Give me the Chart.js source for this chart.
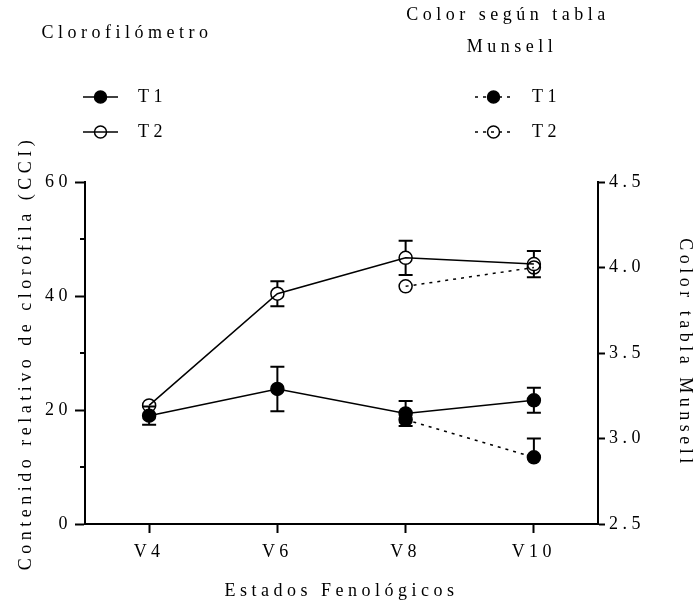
<!DOCTYPE html>
<html>
<head>
<meta charset="utf-8">
<script src="https://cdn.jsdelivr.net/npm/chart.js@4.4.0/dist/chart.umd.min.js"></script>
<style>
  html, body { margin: 0; padding: 0; background: #fff; }
</style>
</head>
<body>
<canvas id="chart" width="698" height="606"></canvas>
<script>
// datos
const estados = ['V4', 'V6', 'V8', 'V10'];

const cloroT1 = [19.0, 23.7, 19.4, 21.7];
const cloroT1Err = [1.6, 3.9, 2.2, 2.2];
const cloroT2 = [20.8, 40.4, 46.7, 45.6];
const cloroT2Err = [0.6, 2.2, 3.0, 2.3];

const munsellT1 = [null, null, 3.11, 2.89];
const munsellT1ErrUp = [null, null, 0, 0.11];
const munsellT2 = [null, null, 3.89, 4.00];
const munsellT2Err = [null, null, 0, 0];

const ticksCloro = [0, 20, 40, 60];
const ticksMunsell = [2.5, 3.0, 3.5, 4.0, 4.5];

const FONT = "'Liberation Serif', 'Times New Roman', serif";
const SPACING = '4.5px';
const R = 6.5;

const spacingPlugin = {
  id: 'spacing',
  beforeUpdate(chart) { chart.ctx.letterSpacing = SPACING; },
  beforeDraw(chart) { chart.ctx.letterSpacing = SPACING; }
};

function whisker(ctx, x, y, yEnd) {
  const dir = yEnd < y ? -1 : 1;
  const start = y + dir * R;
  if ((yEnd - start) * dir <= 0) return;
  ctx.beginPath();
  ctx.moveTo(x, start);
  ctx.lineTo(x, yEnd);
  ctx.moveTo(x - 7, yEnd);
  ctx.lineTo(x + 7, yEnd);
  ctx.stroke();
}

const errorPlugin = {
  id: 'errores',
  afterDatasetsDraw(chart) {
    const ctx = chart.ctx;
    const sets = [
      [0, cloroT1Err, cloroT1Err],
      [1, cloroT2Err, cloroT2Err],
      [2, munsellT1ErrUp, null],
      [3, munsellT2Err, munsellT2Err]
    ];
    ctx.save();
    ctx.strokeStyle = '#000';
    ctx.lineWidth = 2;
    sets.forEach(([idx, up, down]) => {
      const meta = chart.getDatasetMeta(idx);
      const ys = chart.scales[meta.yAxisID];
      const vals = chart.data.datasets[idx].data;
      meta.data.forEach((pt, i) => {
        const v = vals[i];
        if (v == null) return;
        if (up && up[i]) whisker(ctx, pt.x, pt.y, ys.getPixelForValue(v + up[i]));
        if (down && down[i]) whisker(ctx, pt.x, pt.y, ys.getPixelForValue(v - down[i]));
      });
    });
    ctx.restore();
  }
};

function legendItem(ctx, x0, x1, y, filled, dashed, label, tx) {
  const cx = (x0 + x1) / 2;
  ctx.save();
  ctx.strokeStyle = '#000';
  ctx.lineWidth = 1.5;
  if (dashed) ctx.setLineDash([3, 5]);
  ctx.beginPath();
  ctx.moveTo(x0, y);
  ctx.lineTo(x1, y);
  ctx.stroke();
  ctx.setLineDash([]);
  ctx.beginPath();
  ctx.arc(cx, y, R - 0.5, 0, Math.PI * 2);
  if (filled) { ctx.fillStyle = '#000'; ctx.fill(); }
  ctx.stroke();
  ctx.fillStyle = '#000';
  ctx.textAlign = 'left';
  ctx.textBaseline = 'middle';
  ctx.fillText(label, tx, y);
  ctx.restore();
}

const extrasPlugin = {
  id: 'extras',
  afterDraw(chart) {
    const ctx = chart.ctx;
    const yS = chart.scales.y;
    // marcas menores del eje izquierdo
    ctx.save();
    ctx.strokeStyle = '#000';
    ctx.lineWidth = 2;
    [10, 30, 50].forEach(v => {
      const y = yS.getPixelForValue(v);
      ctx.beginPath();
      ctx.moveTo(chart.chartArea.left - 5, y);
      ctx.lineTo(chart.chartArea.left, y);
      ctx.stroke();
    });
    ctx.restore();

    ctx.save();
    ctx.font = '18px ' + FONT;
    ctx.letterSpacing = SPACING;
    ctx.fillStyle = '#000';
    ctx.textAlign = 'center';
    ctx.textBaseline = 'middle';
    ctx.fillText('Clorofilómetro', 127, 33);
    ctx.fillText('Color según tabla', 508, 15);
    ctx.fillText('Munsell', 512, 47);
    legendItem(ctx, 83, 118, 97, true, false, 'T1', 138);
    legendItem(ctx, 83, 118, 132, false, false, 'T2', 138);
    legendItem(ctx, 475, 512, 97, true, true, 'T1', 532);
    legendItem(ctx, 475, 512, 132, false, true, 'T2', 532);
    ctx.restore();
  }
};

function serie(data, filled, dashed, axis) {
  return {
    data: data,
    yAxisID: axis,
    borderColor: '#000',
    borderWidth: 1.5,
    borderDash: dashed ? [3, 5] : [],
    pointRadius: R,
    pointBorderWidth: 1.5,
    pointBorderColor: '#000',
    pointBackgroundColor: filled ? '#000' : 'rgba(0,0,0,0)',
    tension: 0,
    fill: false
  };
}

new Chart(document.getElementById('chart'), {
  type: 'line',
  data: {
    labels: estados,
    datasets: [
      serie(cloroT1, true, false, 'y'),
      serie(cloroT2, false, false, 'y'),
      serie(munsellT1, true, true, 'y1'),
      serie(munsellT2, false, true, 'y1')
    ]
  },
  options: {
    responsive: false,
    animation: false,
    events: [],
    layout: { padding: { top: 182, left: 0, right: 0, bottom: 0 } },
    plugins: { legend: { display: false }, tooltip: { enabled: false } },
    font: { family: FONT, size: 18 },
    scales: {
      x: {
        type: 'category',
        offset: true,
        grid: { offset: false, drawOnChartArea: false, tickLength: 9, tickWidth: 2, tickColor: '#000' },
        border: { display: true, width: 2, color: '#000' },
        ticks: { color: '#000', padding: 8, font: { family: FONT, size: 18 }, maxRotation: 0 },
        title: { display: true, text: 'Estados Fenológicos', color: '#000', font: { family: FONT, size: 18 }, padding: { top: 0, bottom: 4 } },
        afterFit(s) { s.height = 82; }
      },
      y: {
        position: 'left',
        min: 0,
        max: 60,
        afterBuildTicks(s) { s.ticks = ticksCloro.map(v => ({ value: v })); },
        grid: { drawOnChartArea: false, tickLength: 10, tickWidth: 2, tickColor: '#000' },
        border: { display: true, width: 2, color: '#000' },
        ticks: { color: '#000', padding: 3, font: { family: FONT, size: 18 } },
        title: { display: true, text: 'Contenido relativo de clorofila (CCI)', color: '#000', font: { family: FONT, size: 18 }, padding: { top: 15, bottom: 0 } },
        afterFit(s) { s.width = 85; }
      },
      y1: {
        position: 'right',
        min: 2.5,
        max: 4.5,
        afterBuildTicks(s) { s.ticks = ticksMunsell.map(v => ({ value: v })); },
        grid: { drawOnChartArea: false, tickLength: 7, tickWidth: 2, tickColor: '#000' },
        border: { display: true, width: 2, color: '#000' },
        ticks: { color: '#000', padding: 4, font: { family: FONT, size: 18 }, callback: v => Number(v).toFixed(1) },
        title: { display: true, text: 'Color tabla Munsell', color: '#000', font: { family: FONT, size: 18 }, padding: { top: 2, bottom: 0 } },
        afterFit(s) { s.width = 100; }
      }
    }
  },
  plugins: [spacingPlugin, errorPlugin, extrasPlugin]
});
</script>
</body>
</html>
